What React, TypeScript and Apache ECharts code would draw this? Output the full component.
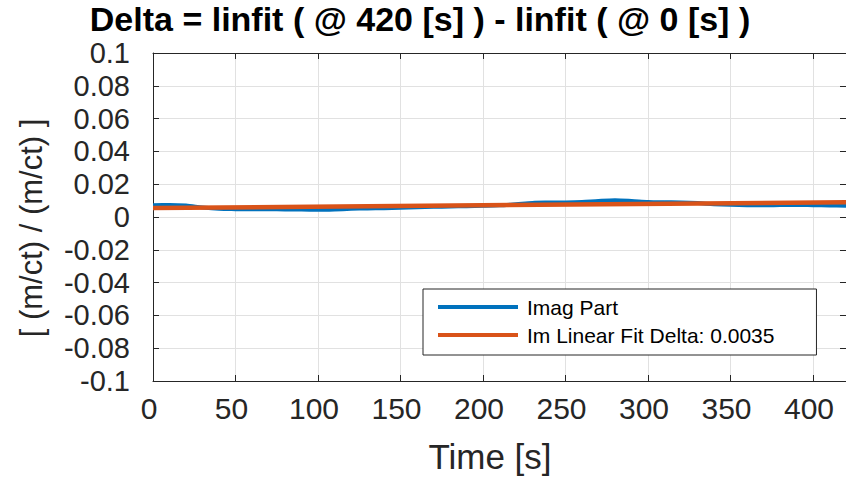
import React, { useEffect, useRef } from "react";
import * as echarts from "echarts";

const titleText = "Delta = linfit ( @ 420 [s] ) - linfit ( @ 0 [s] )";
const xName = "Time [s]";
const yName = "[ (m/ct) / (m/ct) ]";
const seriesNames = ["Imag Part", "Im Linear Fit Delta: 0.0035"];

const timeSec = [
  0, 10, 20, 30, 40, 50, 60, 70, 80, 90, 100, 110, 120, 130, 140, 150, 160, 170, 180, 190, 200,
  210, 220, 230, 240, 250, 260, 270, 280, 290, 300, 310, 320, 330, 340, 350, 360, 370, 380, 390,
  400, 410, 420,
];
const imagPart = [
  0.0072, 0.0073, 0.007, 0.0058, 0.005, 0.0048, 0.0047, 0.0047, 0.0046, 0.0045, 0.0044, 0.0046,
  0.005, 0.0052, 0.0054, 0.0057, 0.006, 0.0062, 0.0064, 0.0066, 0.0068, 0.0071, 0.0078, 0.0086,
  0.0088, 0.0089, 0.0092, 0.0098, 0.0102, 0.0098, 0.0092, 0.009, 0.0089, 0.0085, 0.0078, 0.0074,
  0.0072, 0.0071, 0.0073, 0.0074, 0.0072, 0.007, 0.0069,
];
const fitTime = [0, 420];
const fitValues = [0.0055, 0.009];

const BLUE = "#0072BD";
const ORANGE = "#D95319";
const AXIS = "#262626";
const GRID = "#e1e1e1";
const FONT = "Liberation Sans, Arial, sans-serif";

export default function App() {
  const ref = useRef<HTMLDivElement>(null);
  useEffect(() => {
    if (!ref.current) return;
    const chart = echarts.init(ref.current, null, { renderer: "svg" });
    const tickCommon = { show: true, inside: true, length: 6, lineStyle: { color: AXIS } };
    chart.setOption({
      animation: false,
      backgroundColor: "#ffffff",
      textStyle: { fontFamily: FONT },
      title: {
        text: titleText,
        left: 420,
        top: 2,
        padding: 0,
        textAlign: "center",
        textStyle: { fontFamily: FONT, fontSize: 34, lineHeight: 34, fontWeight: "bold", color: "#000" },
      },
      grid: { left: 153, right: 0, top: 53, bottom: 96, containLabel: false },
      graphic: [
        {
          type: "text",
          x: 31,
          y: 228,
          rotation: Math.PI / 2,
          style: {
            text: yName,
            fontFamily: FONT,
            fontSize: 31,
            fill: "#262626",
            align: "center",
            verticalAlign: "middle",
          },
        },
        {
          type: "text",
          x: 490,
          y: 456,
          style: {
            text: xName,
            fontFamily: FONT,
            fontSize: 35,
            fill: "#262626",
            align: "center",
            verticalAlign: "middle",
          },
        },
      ],
      legend: {
        show: true,
        orient: "vertical",
        left: 423,
        top: 289,
        icon: "rect",
        itemWidth: 80,
        itemHeight: 4,
        itemGap: 4,
        padding: [6, 42, 8, 15],
        borderColor: AXIS,
        borderWidth: 1,
        backgroundColor: "#fff",
        textStyle: { fontFamily: FONT, fontSize: 21, color: "#000", lineHeight: 24, padding: [0, 0, 0, 4] },
        data: seriesNames,
      },
      xAxis: [
        {
          type: "value",
          min: 0,
          max: 420,
          interval: 50,
          axisLine: { show: true, onZero: false, lineStyle: { color: AXIS, width: 1 } },
          axisTick: tickCommon,
          axisLabel: {
            fontFamily: FONT,
            fontSize: 30,
            color: "#262626",
            margin: 12,
            padding: [0, 8, 0, 0],
            showMaxLabel: false,
            formatter: (v: number) => (v % 50 === 0 ? String(v) : ""),
          },
          splitLine: { show: true, lineStyle: { color: GRID, width: 1 } },
        },
        {
          type: "value",
          position: "top",
          min: 0,
          max: 420,
          interval: 50,
          axisLine: { show: true, onZero: false, lineStyle: { color: AXIS, width: 1 } },
          axisTick: tickCommon,
          axisLabel: { show: false },
          splitLine: { show: false },
        },
      ],
      yAxis: [
        {
          type: "value",
          min: -0.1,
          max: 0.1,
          interval: 0.02,
          axisLine: { show: true, onZero: false, lineStyle: { color: AXIS, width: 1 } },
          axisTick: tickCommon,
          axisLabel: {
            fontFamily: FONT,
            fontSize: 29,
            lineHeight: 26,
            color: "#262626",
            margin: 23,
            formatter: (v: number) => String(+v.toFixed(2)),
          },
          splitLine: { show: true, lineStyle: { color: GRID, width: 1 } },
        },
        {
          type: "value",
          position: "right",
          min: -0.1,
          max: 0.1,
          interval: 0.02,
          axisLine: { show: true, onZero: false, lineStyle: { color: AXIS, width: 1 } },
          axisTick: tickCommon,
          axisLabel: { show: false },
          splitLine: { show: false },
        },
      ],
      series: [
        {
          name: seriesNames[0],
          type: "line",
          xAxisIndex: 0,
          yAxisIndex: 0,
          showSymbol: false,
          symbol: "none",
          smooth: 0.3,
          lineStyle: { color: BLUE, width: 4 },
          itemStyle: { color: BLUE },
          data: timeSec.map((t, i) => [t, imagPart[i]]),
        },
        {
          name: seriesNames[1],
          type: "line",
          xAxisIndex: 0,
          yAxisIndex: 0,
          showSymbol: false,
          symbol: "none",
          lineStyle: { color: ORANGE, width: 4.5 },
          itemStyle: { color: ORANGE },
          data: fitTime.map((t, i) => [t, fitValues[i]]),
        },
      ],
    });
    return () => chart.dispose();
  }, []);
  return <div ref={ref} style={{ width: 846, height: 477, position: "absolute", left: 0, top: 0 }} />;
}
